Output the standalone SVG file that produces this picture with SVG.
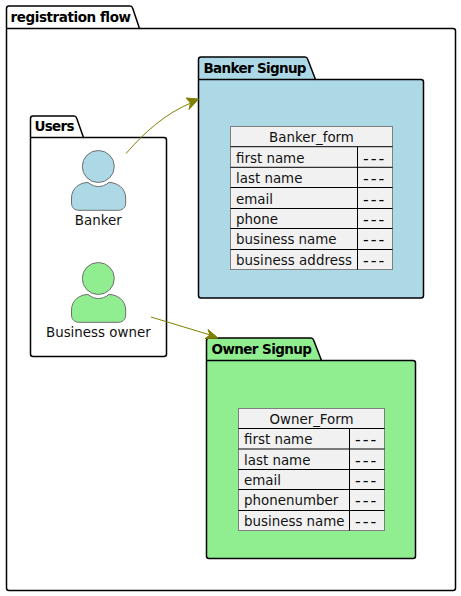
<svg xmlns="http://www.w3.org/2000/svg" width="461" height="596" viewBox="0 0 461 596">
<style>
text{font-family:"DejaVu Sans",Verdana,sans-serif;fill:#000}
.t{font-size:13.500px;font-weight:700}
.l{font-size:13.400px;fill:#111}
.d{font-size:16px;letter-spacing:2px;fill:#000}
.m{text-anchor:middle}
.p{stroke:#000;stroke-width:1.500;stroke-linejoin:round}
.a{stroke:#6f6f6f;stroke-width:1}
.g{fill:#f1f1f1;stroke:#7f7f7f;stroke-width:1}
.r{stroke:#000;stroke-width:1;fill:none}
.c{fill:none;stroke:#808000;stroke-width:1}
.h{fill:#808000;stroke:#808000;stroke-width:1}
</style>
<rect width="461" height="596" fill="#fff"/>
<g id="registration-flow">
<path class="p" fill="#fff" d="M6.500 8.500Q6.500 6 9 6H130Q132 6 132.600 8L139.500 28.500H453Q455.500 28.500 455.500 31V588Q455.500 590.500 453 590.500H9Q6.500 590.500 6.500 588Z"/>
<path class="p" fill="none" d="M6.500 28.500H139.500"/>
<text class="t" x="10.500" y="22" textLength="120.500">registration flow</text>
</g>
<g id="users">
<path class="p" fill="#fff" d="M30.500 118.500Q30.500 116 33 116H74Q76 116 76.600 118L83.500 137.500H164Q166.500 137.500 166.500 140V354Q166.500 356.500 164 356.500H33Q30.500 356.500 30.500 354Z"/>
<path class="p" fill="none" d="M30.500 137.500H83.500"/>
<text class="t" x="34.500" y="131" textLength="40">Users</text>
</g>
<g id="banker">
<circle class="a" cx="98.300" cy="166.500" r="16" fill="#add8e6"/>
<path class="a" fill="#add8e6" d="M71.500 198C71.500 188 80 182.500 88 182.500C92 185.500 95 186.500 98.500 186.500C102 186.500 105 185.500 109 182.500C117 182.500 125.700 188 125.700 198V203C125.700 208 122 210.300 118 210.300H79C75 210.300 71.500 208 71.500 203Z"/>
<text class="l m" x="98.300" y="225">Banker</text>
</g>
<g id="business-owner">
<circle class="a" cx="98.300" cy="278.500" r="16" fill="#90ee90"/>
<path class="a" fill="#90ee90" d="M71.500 310C71.500 300 80 294.500 88 294.500C92 297.500 95 298.500 98.500 298.500C102 298.500 105 297.500 109 294.500C117 294.500 125.700 300 125.700 310V315C125.700 320 122 322.300 118 322.300H79C75 322.300 71.500 320 71.500 315Z"/>
<text class="l m" x="98.300" y="337">Business owner</text>
</g>
<g id="banker-signup">
<path class="p" fill="#add8e6" d="M198.500 59.500Q198.500 57 201 57H305Q307 57 307.600 59L315.500 79.500H421Q423.500 79.500 423.500 82V295.500Q423.500 298 421 298H201Q198.500 298 198.500 295.500Z"/>
<path class="p" fill="none" d="M198.500 79.500H315.500"/>
<text class="t" x="203.500" y="73" textLength="103">Banker Signup</text>
</g>
<g id="banker-form">
<rect class="g" x="230.500" y="126.500" width="162" height="143"/>
<path class="r" d="M230.500 146.700H392.500M230.500 167.300H392.500M230.500 187.500H392.500M230.500 208.500H392.500M230.500 228.500H392.500M230.500 249.500H392.500M357.500 146.700V269.500"/>
<text class="l m" x="311.500" y="142">Banker_form</text>
<text class="l" x="236" y="163">first name</text><text class="d" x="363" y="164">---</text>
<text class="l" x="236" y="183">last name</text><text class="d" x="363" y="184">---</text>
<text class="l" x="236" y="204">email</text><text class="d" x="363" y="205">---</text>
<text class="l" x="236" y="224">phone</text><text class="d" x="363" y="225">---</text>
<text class="l" x="236" y="244">business name</text><text class="d" x="363" y="245">---</text>
<text class="l" x="236" y="265" textLength="116">business address</text><text class="d" x="363" y="266">---</text>
</g>
<g id="owner-signup">
<path class="p" fill="#90ee90" d="M206.500 340.500Q206.500 338 209 338H311Q313 338 313.600 340L321.500 360.500H413Q415.500 360.500 415.500 363V556Q415.500 558.500 413 558.500H209Q206.500 558.500 206.500 556Z"/>
<path class="p" fill="none" d="M206.500 360.500H321.500"/>
<text class="t" x="211.500" y="354" textLength="100.500">Owner Signup</text>
</g>
<g id="owner-form">
<rect class="g" x="238.500" y="408.500" width="146" height="122"/>
<path class="r" d="M238.500 428.500H384.500M238.500 449H384.500M238.500 469.500H384.500M238.500 489.500H384.500M238.500 510.500H384.500M349.500 428.500V530.500"/>
<text class="l m" x="311.500" y="424">Owner_Form</text>
<text class="l" x="244" y="444">first name</text><text class="d" x="355" y="445">---</text>
<text class="l" x="244" y="465">last name</text><text class="d" x="355" y="466">---</text>
<text class="l" x="244" y="485">email</text><text class="d" x="355" y="486">---</text>
<text class="l" x="244" y="505">phonenumber</text><text class="d" x="355" y="506">---</text>
<text class="l" x="244" y="526">business name</text><text class="d" x="355" y="527">---</text>
</g>
<g id="connectors">
<path class="c" d="M126 153.500C144 133 164 114 193 102"/>
<path class="h" d="M198.500 99L186 98 190.500 103 189 109.500Z"/>
<path class="c" d="M151 317L212 335.500"/>
<path class="h" d="M218 338L208 329.500 210 335 205 338.500Z"/>
</g>
</svg>
